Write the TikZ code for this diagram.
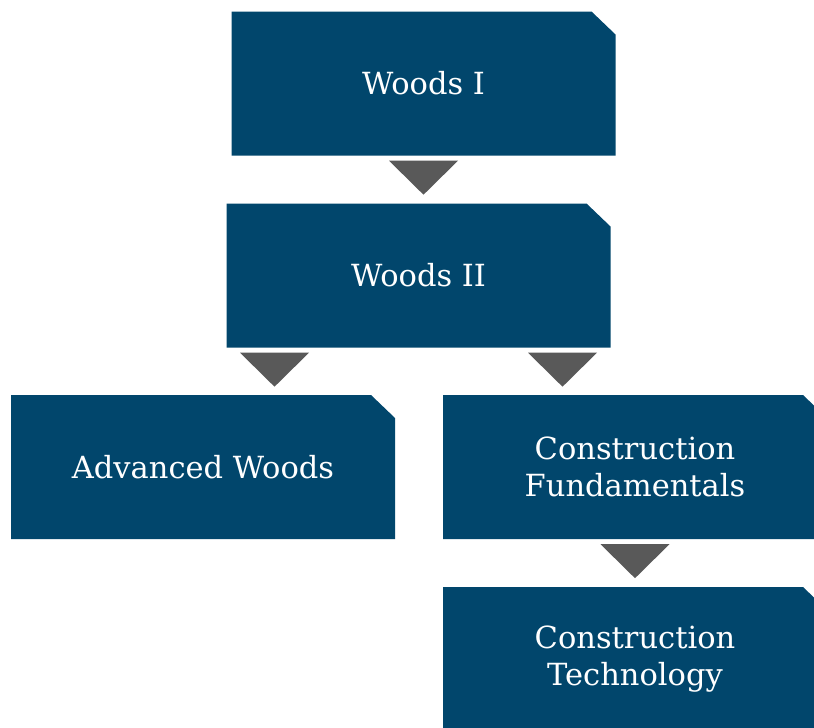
\documentclass[tikz,border=0pt]{standalone}
\usepackage{fontspec}
\setmainfont{DejaVu Serif}
\usetikzlibrary{calc}

\definecolor{boxblue}{HTML}{01466C}
\definecolor{chevgray}{HTML}{595959}

\tikzset{
  cutbox/.style={text=white, inner sep=0pt, align=center,
    minimum width=384pt, minimum height=144pt,
    font=\fontsize{30.5}{37}\selectfont,
    path picture={\fill[boxblue] (path picture bounding box.south west)
      -- (path picture bounding box.north west)
      -- ($(path picture bounding box.north east)+(-24,0)$)
      -- ($(path picture bounding box.north east)+(0,-23)$)
      -- (path picture bounding box.south east) -- cycle;}},
  chevron/.style={fill=chevgray}
}

\begin{document}
\begin{tikzpicture}[x=1pt,y=1pt]
        \useasboundingbox (0,0) rectangle (814,-728);
        \node[cutbox] (woodsone) at (423.5,-83.5) {Woods I};
        \node[cutbox] (woodstwo) at (418.5,-275.5) {Woods II};
        \node[cutbox] (advwoods) at (203,-467) {Advanced Woods};
        \node[cutbox] (constfund) at (635,-467) {Construction\\Fundamentals};
        \node[cutbox] (consttech) at (635,-659) {Construction\\Technology};
        % chevrons between the boxes
        \foreach \from/\dx in {woodsone/0, woodstwo/-144, woodstwo/144, constfund/0}
            \fill[chevron] ($(\from.south)+(\dx,-5)$) ++(-34.5,0) -- ++(69,0) -- ++(-34.5,-34) -- cycle;
    \end{tikzpicture}
\end{document}
